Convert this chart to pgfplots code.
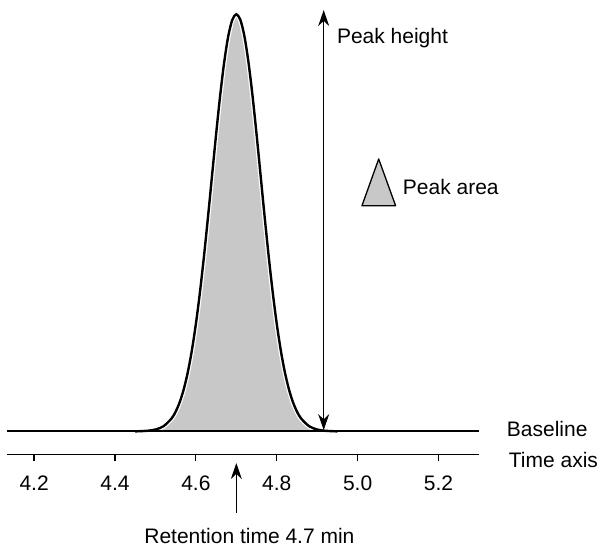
\documentclass[border=0pt]{standalone}
\usepackage{fontspec}
\setmainfont{Liberation Sans}
\usepackage{pgfplots}
\usepackage{pgfplotstable}
\pgfplotsset{compat=1.18}
\usetikzlibrary{arrows.meta}

\definecolor{fillgray}{RGB}{200,200,200}

% peak signal, baseline = 0, apex = 100
\pgfplotstableread{
t     s
4.45  0.00
4.48  0.14
4.50  0.44
4.52  1.23
4.54  3.10
4.55  4.72
4.56  7.00
4.57  10.09
4.58  14.17
4.59  19.36
4.60  25.74
4.61  33.31
4.62  41.96
4.63  51.43
4.64  61.36
4.65  71.23
4.66  80.48
4.67  88.50
4.68  94.72
4.69  98.65
4.70  100.00
4.71  98.65
4.72  94.72
4.73  88.50
4.74  80.48
4.75  71.23
4.76  61.36
4.77  51.43
4.78  41.96
4.79  33.31
4.80  25.74
4.81  19.36
4.82  14.17
4.83  10.09
4.84  7.00
4.85  4.72
4.86  3.10
4.88  1.23
4.90  0.44
4.92  0.14
4.95  0.00
}\peak

\begin{document}
\fontsize{10.5}{12.6}\selectfont
\begin{tikzpicture}
\path[use as bounding box] (0,0) rectangle (298.5pt,273pt);
\begin{axis}[
  at={(3.5pt,45.85pt)}, anchor=south west,
  scale only axis, width=236pt, height=223.15pt,
  xmin=4.133, xmax=5.3, ymin=-5.5, ymax=101.5,
  axis x line*=bottom, axis y line=none,
  x axis line style={-, line width=0.6pt},
  xtick={4.2,4.4,4.6,4.8,5.0,5.2},
  tick align=outside, major tick length=3.5pt,
  xtick style={line width=0.6pt, black},
  xticklabel style={/pgf/number format/.cd, fixed, fixed zerofill, precision=1},
  /pgf/number format/assume math mode=true,
  tick label style={font=\fontsize{10.5}{12.6}\selectfont, yshift=-3.7pt},
  clip=false,
]
% area under the peak
\addplot[draw=none, fill=fillgray] table[x=t, y=s] {\peak};
\addplot[white, line width=2.4pt, smooth] table[x=t, y=s] {\peak};
% baseline
\addplot[black, line width=1pt] coordinates {(4.133,0) (5.3,0)};
% peak outline
\addplot[black, line width=1.2pt, smooth] table[x=t, y=s] {\peak};

% peak height
\draw[{Stealth[length=8pt,width=5.5pt]}-{Stealth[length=8pt,width=5.5pt]}, line width=0.65pt]
  (4.916,101) -- (4.916,0.3);
\node[anchor=base west, inner sep=0] at (4.948,93.05) {Peak height};

% peak area symbol
\draw[fill=fillgray, line width=0.65pt, line join=round] (5.0106,54.1) -- (5.052,65.3) -- (5.0938,54.1) -- cycle;
\node[anchor=base west, inner sep=0] at (5.111,56.68) {Peak area};

% retention time
\draw[-{Stealth[length=8pt,width=5.5pt]}, line width=0.65pt] (4.7,-19.6) -- (4.7,-7.6);
\node[anchor=base west, inner sep=0] at (4.4716,-27.0) {Retention time 4.7 min};

\node[anchor=base west, inner sep=0] at (5.368,-1.27) {Baseline};
\node[anchor=base west, inner sep=0] at (5.373,-8.61) {Time axis};
\end{axis}
\end{tikzpicture}
\end{document}
